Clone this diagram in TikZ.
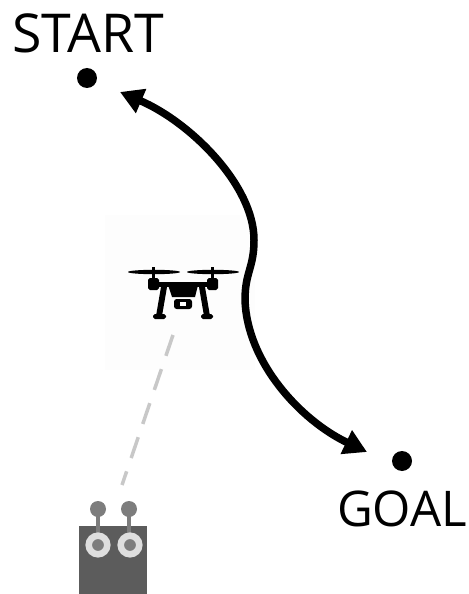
\documentclass[tikz,border=0pt]{standalone}
\usepackage{fontspec}
\setmainfont{Open Sans}
\usetikzlibrary{arrows.meta}
\definecolor{linkcol}{RGB}{200, 200, 200}
\definecolor{remotecol}{RGB}{92, 92, 92}
\definecolor{knobcol}{RGB}{125, 125, 125}
\definecolor{ringcol}{RGB}{222, 222, 222}
\definecolor{hazecol}{RGB}{253, 253, 253}

\begin{document}
\begin{tikzpicture}[
    x=0.02cm, y=-0.02cm,
    waypoint/.style={circle, fill=black, inner sep=0pt, minimum size=0.4cm},
    place/.style={inner sep=0pt},
    route/.style={line width=0.15cm, {Triangle[length=0.46cm,width=0.5cm]}-{Triangle[length=0.46cm,width=0.5cm]}},
    linkline/.style={draw=linkcol, line width=0.07cm, dash pattern=on 0.44cm off 0.28cm},
    dronepart/.style={fill=black, draw=none},
    antenna/.style={draw=knobcol, line width=0.08cm}
]
\useasboundingbox (0,0) rectangle (468,594);

% Faint square behind the drone
\fill[hazecol] (105,215) rectangle (255,370);

% Start and goal
\node[waypoint] (start) at (87,78) {};
\node[waypoint] (goal) at (402,461) {};
\node[place, font=\fontsize{30.5}{30.5}\selectfont] (startlabel) at (88,33) {START};
\node[place, font=\fontsize{28}{28}\selectfont] (goallabel) at (402,509) {GOAL};

% Curved route
\coordinate (routeend) at (120,92);
\coordinate (routegoal) at (367,452);
\draw[route] (routeend) .. controls (190,122) and (254,185) .. (254,240)
    .. controls (254,268) and (245,272) .. (245,300)
    .. controls (247,362) and (300,420) .. (routegoal);

% Drone
\fill[dronepart] (154,272) ellipse (26 and 2.2);
\fill[dronepart] (213,272) ellipse (26 and 2.2);
\fill[dronepart] (152,267) rectangle (155,280);
\fill[dronepart] (211,267) rectangle (214,280);
\fill[dronepart, rounded corners=1pt] (148,278) rectangle (159,290);
\fill[dronepart, rounded corners=1pt] (207,278) rectangle (218,290);
\fill[dronepart] (158,282) rectangle (208,287);
\fill[dronepart] (168,285) -- (198,285) -- (195,297) -- (172,297) -- cycle;
\fill[dronepart] (161,287) -- (167,287) -- (162,316) -- (156,316) -- cycle;
\fill[dronepart] (199,287) -- (205,287) -- (210,316) -- (204,316) -- cycle;
\fill[dronepart, rounded corners=1pt] (153,314) rectangle (166,319);
\fill[dronepart, rounded corners=1pt] (201,314) rectangle (213,319);
\fill[dronepart, rounded corners=1.5pt] (174,299) rectangle (192,309);
\fill[white] (180,302) rectangle (186,306);

% Radio link
\coordinate (linkdrone) at (173,335);
\coordinate (linkremote) at (122,485);
\draw[linkline] (linkdrone) -- (linkremote);

% Remote controller
\fill[remotecol] (79,526) rectangle (147,594);
\draw[antenna] (98,509) -- (98,545);
\draw[antenna] (129,509) -- (129,545);
\fill[knobcol] (98,509) circle (8);
\fill[knobcol] (129,509) circle (8);
\filldraw[draw=ringcol, fill=knobcol, line width=0.13cm] (98,545) circle (9.3);
\filldraw[draw=ringcol, fill=knobcol, line width=0.13cm] (130,545) circle (9.3);

\end{tikzpicture}
\end{document}
